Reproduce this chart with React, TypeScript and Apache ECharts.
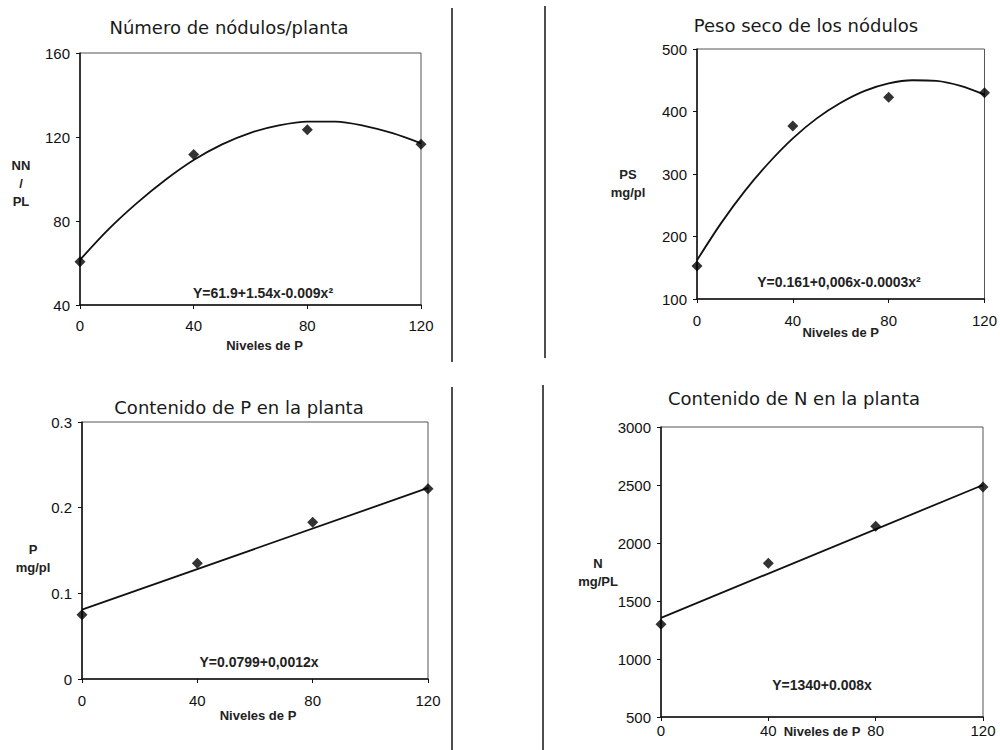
import React, { useEffect, useRef } from "react";
import * as echarts from "echarts";

// ---- data ----
const xLevels = [0, 40, 80, 120];
const curveX = [0, 10, 20, 30, 40, 50, 60, 70, 80, 90, 100, 110, 120];
const lineX = [0, 120];

// Panel 1: Número de nódulos / planta
const nnObserved = [60.6, 111.7, 123.4, 116.6];
const nnFit = [61.5, 76, 88.5, 99.5, 109, 116.5, 122, 125.5, 127.3, 127.3, 125.3, 121.8, 117];

// Panel 2: Peso seco de los nódulos
const psObserved = [153, 377, 423, 430];
const psFit = [162, 221, 273, 318, 357, 389, 414, 433, 445, 450, 449, 441, 427];

// Panel 3: Contenido de P en la planta
const pObserved = [0.075, 0.135, 0.183, 0.222];
const pFit = [0.081, 0.223];

// Panel 4: Contenido de N en la planta
const nObserved = [1299, 1825, 2144, 2483];
const nFit = [1355, 2500];

const titles = [
  "Número de nódulos/planta",
  "Peso seco de los nódulos",
  "Contenido de P en la planta",
  "Contenido de N en la planta",
];
const yNames = ["NN\n/\nPL", "PS\nmg/pl", "P\nmg/pl", "N\nmg/PL"];
const xName = "Niveles de P";
const equations = [
  "Y=61.9+1.54x-0.009x²",
  "Y=0.161+0,006x-0.0003x²",
  "Y=0.0799+0,0012x",
  "Y=1340+0.008x",
];
const yMins = [40, 100, 0, 500];
const yMaxs = [160, 500, 0.3, 3000];
const yIntervals = [40, 100, 0.1, 500];
const xMin = 0;
const xMax = 120;
const xInterval = 40;

// ---- layout (positions / styles) ----
const grids = [
  { left: 80, top: 53, width: 341, height: 252 },
  { left: 697, top: 49, width: 291, height: 250 },
  { left: 82, top: 422, width: 346, height: 257 },
  { left: 661, top: 427, width: 322, height: 290 },
];
const titlePos = [
  [229, 27],
  [806, 25],
  [239, 407],
  [794, 398],
];
const yNamePos = [
  [21, 183],
  [628, 183],
  [33, 558],
  [598, 572],
];
const eqPos = [
  [263, 293],
  [839, 282],
  [259, 662],
  [822, 685],
];
const xLabelMargin = [13, 14, 14, 6];
const xNameGap = [34, 27, 30, 8];
const xNamePadLeft = [28, 0, 6, 0];

const tickFont = "'Liberation Sans', Arial, sans-serif";
const titleFont = "'DejaVu Sans', Verdana, sans-serif";

export default function App() {
  const ref = useRef<HTMLDivElement>(null);

  useEffect(() => {
    document.body.style.margin = "0";
    if (!ref.current) return;
    const chart = echarts.init(ref.current, undefined, { renderer: "svg" });

    const fitX = [curveX, curveX, lineX, lineX];
    const fitY = [nnFit, psFit, pFit, nFit];
    const obsY = [nnObserved, psObserved, pObserved, nObserved];

    const xAxis = grids.map((_, i) => ({
      type: "value",
      gridIndex: i,
      min: xMin,
      max: xMax,
      interval: xInterval,
      name: xName,
      nameLocation: "middle",
      nameGap: xNameGap[i],
      nameMoveOverlap: false,
      nameTextStyle: {
        fontFamily: tickFont,
        fontSize: 13,
        fontWeight: "bold",
        color: "#222",
        padding: [0, 0, 0, xNamePadLeft[i]],
      },
      splitLine: { show: false },
      axisLine: { show: true, onZero: false, lineStyle: { color: "#111", width: 1.5 } },
      axisTick: { show: true, length: 4, lineStyle: { color: "#111" } },
      axisLabel: {
        fontFamily: tickFont,
        fontSize: 15,
        color: "#111",
        margin: xLabelMargin[i],
        formatter: (v: number) => String(v),
      },
    }));

    const yAxis = grids.map((_, i) => ({
      type: "value",
      gridIndex: i,
      min: yMins[i],
      max: yMaxs[i],
      interval: yIntervals[i],
      splitLine: { show: false },
      axisLine: { show: true, onZero: false, lineStyle: { color: "#111", width: 1.5 } },
      axisTick: { show: true, length: 4, lineStyle: { color: "#111" } },
      axisLabel: {
        fontFamily: tickFont,
        fontSize: 15,
        color: "#111",
        margin: 10,
        formatter: (v: number) => String(Math.round(v * 1000) / 1000),
      },
    }));

    const series: any[] = [];
    grids.forEach((_, i) => {
      series.push({
        type: "line",
        xAxisIndex: i,
        yAxisIndex: i,
        data: fitX[i].map((x, k) => [x, fitY[i][k]]),
        smooth: fitX[i].length > 2 ? 0.3 : false,
        showSymbol: false,
        symbol: "none",
        lineStyle: { color: "#111", width: 1.8 },
        silent: true,
        z: 2,
      });
      series.push({
        type: "scatter",
        xAxisIndex: i,
        yAxisIndex: i,
        data: xLevels.map((x, k) => [x, obsY[i][k]]),
        symbol: "diamond",
        symbolSize: [11, 11],
        itemStyle: { color: "#000" },
        z: 3,
      });
    });

    const graphic: any[] = [];
    titles.forEach((t, i) => {
      graphic.push({
        type: "text",
        x: titlePos[i][0],
        y: titlePos[i][1],
        style: {
          text: t,
          fontFamily: titleFont,
          fontSize: 18,
          fill: "#1a1a1a",
          align: "center",
          verticalAlign: "middle",
        },
      });
    });
    yNames.forEach((t, i) => {
      graphic.push({
        type: "text",
        x: yNamePos[i][0],
        y: yNamePos[i][1],
        style: {
          text: t,
          fontFamily: tickFont,
          fontSize: 13,
          fontWeight: "bold",
          lineHeight: 18,
          fill: "#222",
          align: "center",
          verticalAlign: "middle",
        },
      });
    });
    equations.forEach((t, i) => {
      graphic.push({
        type: "text",
        x: eqPos[i][0],
        y: eqPos[i][1],
        style: {
          text: t,
          fontFamily: tickFont,
          fontSize: 14,
          fontWeight: "bold",
          fill: "#222",
          align: "center",
          verticalAlign: "middle",
        },
      });
    });
    const dividers = [
      [452, 8, 452, 362],
      [545, 6, 545, 358],
      [452, 387, 452, 750],
      [543, 385, 543, 750],
    ];
    dividers.forEach((d) => {
      graphic.push({
        type: "line",
        shape: { x1: d[0], y1: d[1], x2: d[2], y2: d[3] },
        style: { stroke: "#222", lineWidth: 1.6 },
      });
    });

    chart.setOption({
      animation: false,
      backgroundColor: "#fff",
      grid: grids.map((g) => ({
        ...g,
        show: true,
        borderColor: "#555",
        borderWidth: 1,
        backgroundColor: "transparent",
      })),
      xAxis,
      yAxis,
      series,
      graphic,
    });

    return () => chart.dispose();
  }, []);

  return <div ref={ref} style={{ width: 1000, height: 750 }} />;
}
